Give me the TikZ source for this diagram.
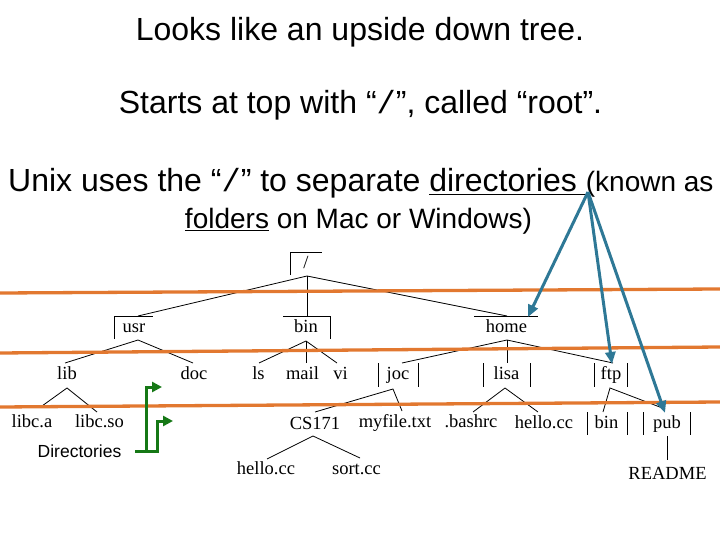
\documentclass[tikz,border=0pt]{standalone}
\usepackage{fontspec}
\setmainfont{Liberation Sans}
\newfontfamily\treefont{Liberation Serif}
\newfontfamily\slashfont{Liberation Mono}
\usetikzlibrary{arrows.meta}
\definecolor{orangeline}{RGB}{226,120,48}
\definecolor{bluearrow}{RGB}{46,120,150}
\definecolor{greenarrow}{RGB}{22,120,22}
\newcommand{\mslash}{{\slashfont /}}
\begin{document}
\begin{tikzpicture}[x=1pt,y=-1pt,
  title/.style={font=\fontsize{32}{38}\selectfont, inner sep=0pt, anchor=base},
  sub/.style={font=\fontsize{28}{34}\selectfont, inner sep=0pt, anchor=base},
  tnode/.style={font=\treefont\fontsize{18.5}{22}\selectfont, inner sep=0pt, anchor=base},
  tline/.style={line width=0.8pt, black},
  oline/.style={orangeline, line width=3.3pt},
  bluearr/.style={bluearrow, line width=3pt, -{Triangle[length=12pt,width=10pt]}},
  greenarr/.style={greenarrow, line width=3pt, -{Triangle[length=10pt,width=10pt]}},
  lbl/.style={font=\fontsize{17.5}{21}\selectfont, inner sep=0pt, anchor=base}]
\fill[white] (0,0) rectangle (720,540);
\useasboundingbox (0,0) rectangle (720,540);

% titles
\node[title] (t1) at (360,41) {Looks like an upside down tree.};
\node[title] (t2) at (360.5,114) {Starts at top with “\mslash”, called “root”.};
\node[title, anchor=base west] (t3) at (8,192) {Unix uses the “\mslash” to separate \underline{directories }{\fontsize{28}{34}\selectfont(known as}};
\node[sub] (t4) at (358.5,229) {\underline{folders} on Mac or Windows)};

% tree nodes
\node[tnode] (root) at (306,268) {/};
\node[tnode] (usr) at (134,332) {usr};
\node[tnode] (bin) at (306,332) {bin};
\node[tnode] (home) at (506.5,332) {home};
\node[tnode] (lib) at (67,379) {lib};
\node[tnode] (doc) at (194,379) {doc};
\node[tnode] (ls) at (258.5,379) {ls};
\node[tnode] (mail) at (302.5,379) {mail};
\node[tnode] (vi) at (340.5,379) {vi};
\node[tnode] (joc) at (398,379) {joc};
\node[tnode] (lisa) at (506.5,379) {lisa};
\node[tnode] (ftp) at (611,379) {ftp};
\node[tnode] (libca) at (32,427) {libc.a};
\node[tnode] (libcso) at (99.5,427) {libc.so};
\node[tnode] (cs) at (315,429) {CS171};
\node[tnode] (myfile) at (395,427) {myfile.txt};
\node[tnode] (bashrc) at (471,427) {.bashrc};
\node[tnode] (hellocc) at (544,428) {hello.cc};
\node[tnode] (ftpbin) at (606.5,428) {bin};
\node[tnode] (pub) at (667,428) {pub};
\node[tnode] (readme) at (667.5,479) {README};
\node[tnode] (hello2) at (266,474) {hello.cc};
\node[tnode] (sortcc) at (356.5,474) {sort.cc};

% brackets and bars
\draw[tline] (290,275) -- (290,252) -- (322,252);
\draw[tline] (114,339) -- (114,316) -- (153,316);
\draw[tline] (283,316) -- (330,316) -- (330,339);
\draw[tline] (474,316) -- (538,316);
\foreach \bx in {378,418,483,530,594,627} \draw[tline] (\bx,363) -- (\bx,387);
\foreach \bx in {587,627,643,690} \draw[tline] (\bx,412) -- (\bx,435);

% junctions and child tops
\coordinate (rootJ) at (307,276);
\coordinate (usrT) at (138,316);
\coordinate (binT) at (307,316);
\coordinate (homeT) at (507,316);
\coordinate (usrJ) at (138,340);
\coordinate (libT) at (65,363);
\coordinate (docT) at (193,363);
\coordinate (binJ) at (306,341);
\coordinate (lsT) at (259,363);
\coordinate (mailT) at (306,363);
\coordinate (viT) at (337,363);
\coordinate (homeJ) at (507,340);
\coordinate (jocT) at (402,363);
\coordinate (lisaT) at (507,363);
\coordinate (ftpT) at (613,363);
\coordinate (libJ) at (67,388);
\coordinate (libcaT) at (42,406);
\coordinate (libcsoT) at (97,412);
\coordinate (jocJ) at (393,389);
\coordinate (csT) at (315,412);
\coordinate (myfileT) at (402,411);
\coordinate (lisaJ) at (505,388);
\coordinate (bashrcT) at (473,412);
\coordinate (helloT) at (538,412);
\coordinate (ftpJ) at (610,388);
\coordinate (ftpbinT) at (603,412);
\coordinate (pubT) at (665,409);
\coordinate (pubB) at (667,436);
\coordinate (readmeT) at (667,460);
\coordinate (csJ) at (313,436);
\coordinate (hello2T) at (267,459);
\coordinate (sortT) at (360,458);

\draw[tline] (usrT) -- (rootJ) -- (homeT);
\draw[tline] (rootJ) -- (binT);
\draw[tline] (libT) -- (usrJ) -- (docT);
\draw[tline] (lsT) -- (binJ) -- (viT);
\draw[tline] (binJ) -- (mailT);
\draw[tline] (jocT) -- (homeJ) -- (ftpT);
\draw[tline] (homeJ) -- (lisaT);
\draw[tline] (libcaT) -- (libJ) -- (libcsoT);
\draw[tline] (csT) -- (jocJ) -- (myfileT);
\draw[tline] (bashrcT) -- (lisaJ) -- (helloT);
\draw[tline] (ftpbinT) -- (ftpJ) -- (pubT);
\draw[tline] (pubB) -- (readmeT);
\draw[tline] (hello2T) -- (csJ) -- (sortT);

% orange lines
\coordinate (o1a) at (0,293); \coordinate (o1b) at (720,289);
\coordinate (o2a) at (0,353); \coordinate (o2b) at (720,347);
\coordinate (o3a) at (0,407); \coordinate (o3b) at (720,402);
\draw[oline] (o1a) -- (o1b);
\draw[oline] (o2a) -- (o2b);
\draw[oline] (o3a) -- (o3b);

% blue arrows
\coordinate (dirs) at (588,192);
\coordinate (homeA) at (528,317);
\coordinate (ftpA) at (612,364);
\coordinate (pubA) at (665,413);
\draw[bluearr] (dirs) -- (homeA);
\draw[bluearr] (dirs) -- (ftpA);
\draw[bluearr] (dirs) -- (pubA);

% green label and arrows
\node[lbl] (dirlabel) at (79.5,457) {Directories};
\coordinate (g0) at (135,451);
\coordinate (g1) at (146,451);
\coordinate (g1t) at (146,387);
\coordinate (g1e) at (162,387);
\coordinate (g2) at (157,451);
\coordinate (g2t) at (157,421);
\coordinate (g2e) at (173,421);
\draw[greenarr] (g0) -- (g1) -- (g1t) -- (g1e);
\draw[greenarr] (g1) -- (g2) -- (g2t) -- (g2e);
\end{tikzpicture}
\end{document}
